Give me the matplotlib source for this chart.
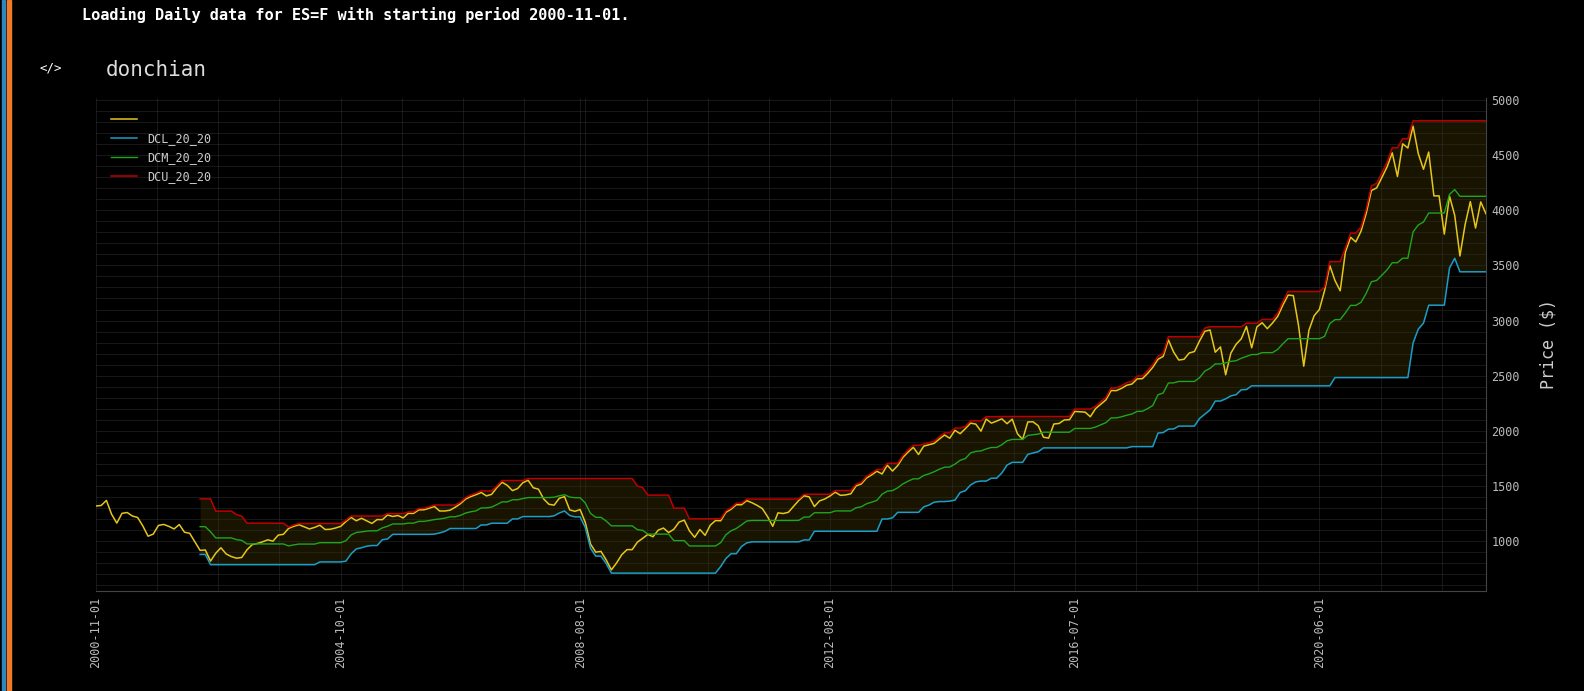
import numpy as np
import pandas as pd
import matplotlib
matplotlib.use('Agg')
import matplotlib.pyplot as plt
from matplotlib.patches import Rectangle
from matplotlib.ticker import MultipleLocator

# monthly closes, ES=F, 2000-11 .. 2023-02
close = [
    1315, 1320,
    1366, 1240, 1160, 1249, 1256, 1224, 1211, 1134, 1041, 1060, 1139, 1148,
    1130, 1107, 1147, 1077, 1067, 990, 912, 916, 815, 886, 936, 880,
    856, 841, 848, 917, 964, 975, 990, 1008, 996, 1051, 1058, 1112,
    1131, 1145, 1126, 1107, 1121, 1141, 1102, 1104, 1115, 1130, 1174, 1212,
    1181, 1204, 1181, 1157, 1192, 1191, 1234, 1220, 1229, 1207, 1249, 1248,
    1280, 1281, 1295, 1311, 1270, 1270, 1277, 1304, 1336, 1378, 1401, 1418,
    1438, 1407, 1421, 1482, 1531, 1503, 1455, 1474, 1527, 1549, 1481, 1468,
    1379, 1331, 1323, 1386, 1400, 1280, 1267, 1283, 1165, 969, 896, 903,
    826, 735, 798, 873, 919, 919, 987, 1021, 1057, 1036, 1096, 1115,
    1074, 1104, 1169, 1187, 1089, 1031, 1102, 1049, 1141, 1183, 1181, 1258,
    1286, 1327, 1326, 1364, 1345, 1321, 1292, 1219, 1131, 1253, 1247, 1258,
    1312, 1366, 1408, 1398, 1310, 1362, 1379, 1406, 1441, 1412, 1416, 1426,
    1498, 1515, 1569, 1598, 1631, 1606, 1686, 1633, 1682, 1757, 1806, 1848,
    1783, 1859, 1872, 1884, 1924, 1960, 1931, 2003, 1972, 2018, 2068, 2059,
    1995, 2105, 2068, 2086, 2107, 2063, 2104, 1972, 1920, 2079, 2080, 2044,
    1940, 1932, 2060, 2065, 2097, 2099, 2174, 2171, 2168, 2126, 2199, 2239,
    2279, 2364, 2363, 2384, 2412, 2423, 2470, 2472, 2519, 2575, 2648, 2674,
    2824, 2714, 2641, 2648, 2705, 2718, 2816, 2902, 2914, 2712, 2760, 2507,
    2704, 2784, 2834, 2946, 2752, 2942, 2980, 2926, 2977, 3038, 3141, 3231,
    3226, 2954, 2585, 2912, 3044, 3100, 3271, 3500, 3363, 3270, 3622, 3756,
    3714, 3811, 3973, 4181, 4204, 4298, 4395, 4523, 4308, 4605, 4567, 4766,
    4516, 4374, 4530, 4132, 4132, 3785, 4130, 3955, 3586, 3872, 4080, 3840,
    4077, 3970,
]
dates = pd.date_range('2000-11-01', periods=len(close), freq='MS')
tick_idx = [0, 47, 93, 141, 188, 235]

s = pd.Series(close, dtype=float)
dcu = s.rolling(21).max() * 1.01
dcl = s.rolling(21).min() * 0.96
dcm = (dcu + dcl) / 2
x = np.arange(len(s))

mono = 'DejaVu Sans Mono'
fig = plt.figure(figsize=(15.84, 6.91), dpi=100, facecolor='black')
fig.patches.append(Rectangle((0.0015, 0), 0.0015, 1, transform=fig.transFigure,
                             color='#2e86c1', zorder=0))
fig.patches.append(Rectangle((0.0045, 0), 0.0022, 1, transform=fig.transFigure,
                             color='#f07b24', zorder=0))
fig.text(0.052, 0.978, 'Loading Daily data for ES=F with starting period 2000-11-01.',
         color='white', fontsize=11, family=mono, fontweight='bold', va='center')
fig.text(0.025, 0.902, '</>', color='white', fontsize=9, family=mono, va='center')
fig.text(0.067, 0.898, 'donchian', color='#dddddd', fontsize=15, family=mono, va='center')

ax = fig.add_axes([0.0606, 0.145, 0.8775, 0.713], facecolor='black')
ax.fill_between(x, dcl, dcu, color='#3a3200', alpha=0.42, lw=0)
ax.plot(x, s, color='#e6c619', lw=1.1, label=' ')
ax.plot(x, dcl, color='#1a9dc8', lw=1.1, label='DCL_20_20')
ax.plot(x, dcm, color='#1fa51f', lw=1.0, label='DCM_20_20')
ax.plot(x, dcu, color='#c00000', lw=1.1, label='DCU_20_20')

ax.set_xlim(0, len(s) - 1)
ax.set_ylim(545, 5020)
ax.yaxis.tick_right()
ax.yaxis.set_label_position('right')
ax.set_yticks(range(1000, 5001, 500))
ax.yaxis.set_minor_locator(MultipleLocator(100))
ax.xaxis.set_minor_locator(MultipleLocator(11.75))
ax.set_xticks(tick_idx)
ax.set_xticklabels([dates[i].strftime('%Y-%m-%d') for i in tick_idx], rotation=90)
ax.grid(which='both', color='#333333', lw=0.6, alpha=0.55)
ax.set_ylabel('Price ($)', color='#cccccc', fontsize=12, family=mono, labelpad=14)
for lab in ax.get_xticklabels() + ax.get_yticklabels():
    lab.set_family(mono)
    lab.set_fontsize(8.5)
    lab.set_color('#bbbbbb')
ax.tick_params(which='both', length=0, pad=4)
for side, sp in ax.spines.items():
    sp.set_color('#444444')
    sp.set_visible(side in ('right', 'bottom'))

leg = ax.legend(loc='upper left', frameon=False,
                prop={'family': mono, 'size': 8.5}, handlelength=2.2,
                borderaxespad=0.9, labelspacing=0.5)
for t in leg.get_texts():
    t.set_color('#cccccc')

fig.savefig('out.png', dpi=100, facecolor='black')
